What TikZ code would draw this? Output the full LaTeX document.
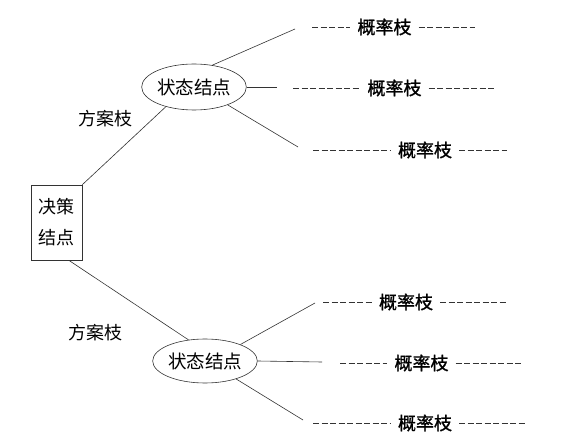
\documentclass[tikz,border=0pt]{standalone}
\usepackage{fontspec}
\setmainfont{Noto Sans CJK SC}
\newfontfamily\probfont{Noto Sans CJK SC}[FakeBold=1.2]
\usetikzlibrary{shapes.geometric}
\begin{document}
\begin{tikzpicture}
[x=1pt,y=-1pt,
decision/.style={rectangle,draw=black!80,line width=0.6pt,minimum width=51pt,minimum height=75pt,inner sep=0pt,align=center,font=\fontsize{18}{31}\selectfont},
state/.style={ellipse,draw=black!80,line width=0.6pt,minimum width=92pt,minimum height=46pt,inner sep=0pt,font=\fontsize{18.5}{22}\selectfont},
plan/.style={inner sep=0pt,font=\fontsize{18}{22}\selectfont},
prob/.style={inner sep=7pt,font=\probfont\fontsize{18}{22}\selectfont},
branch/.style={draw=black!80,line width=0.6pt},
dashline/.style={draw=black!80,line width=0.8pt,dash pattern=on 6pt off 2.5pt}]
\useasboundingbox (0,0) rectangle (575,443);
\node[decision] (dec) at (56.5,222.5) {决策\\结点};
\node[state] (s1) at (194,87) {状态结点};
\node[state,minimum width=97pt,minimum height=44pt] (s2) at (205,361) {状态结点};
\node[plan] (f1) at (105.5,119) {方案枝};
\node[plan] (f2) at (95.5,333) {方案枝};
\coordinate (e1) at (295,29);
\coordinate (e2) at (277,87);
\coordinate (e3) at (298,147);
\coordinate (e4) at (315,303);
\coordinate (e5) at (322,362);
\coordinate (e6) at (303,420);
\draw[branch] (dec.north east) -- (s1.215);
\draw[branch] (dec.-72) -- (s2.128);
\draw[branch] (s1.50) -- (e1);
\draw[branch] (s1.east) -- (e2);
\draw[branch] (s1.-28) -- (e3);
\draw[branch] (s2.25) -- (e4);
\draw[branch] (s2.east) -- (e5);
\draw[branch] (s2.-30) -- (e6);
\node[prob] (p1) at (384.5,27) {概率枝};
\node[prob] (p2) at (394.5,88) {概率枝};
\node[prob] (p3) at (425,150) {概率枝};
\node[prob] (p4) at (406,302) {概率枝};
\node[prob] (p5) at (421.5,363) {概率枝};
\node[prob] (p6) at (425,423) {概率枝};
\coordinate (a1) at (312,27);
\coordinate (b1) at (475,27);
\coordinate (a2) at (293,88);
\coordinate (b2) at (495,88);
\coordinate (a3) at (313,150);
\coordinate (b3) at (507,150);
\coordinate (a4) at (323,302);
\coordinate (b4) at (507,302);
\coordinate (a5) at (340,363);
\coordinate (b5) at (523,363);
\coordinate (a6) at (313,423);
\coordinate (b6) at (527,423);
\draw[dashline] (a1) -- (p1.west);
\draw[dashline] (p1.east) -- (b1);
\draw[dashline] (a2) -- (p2.west);
\draw[dashline] (p2.east) -- (b2);
\draw[dashline] (a3) -- (p3.west);
\draw[dashline] (p3.east) -- (b3);
\draw[dashline] (a4) -- (p4.west);
\draw[dashline] (p4.east) -- (b4);
\draw[dashline] (a5) -- (p5.west);
\draw[dashline] (p5.east) -- (b5);
\draw[dashline] (a6) -- (p6.west);
\draw[dashline] (p6.east) -- (b6);
\end{tikzpicture}
\end{document}
